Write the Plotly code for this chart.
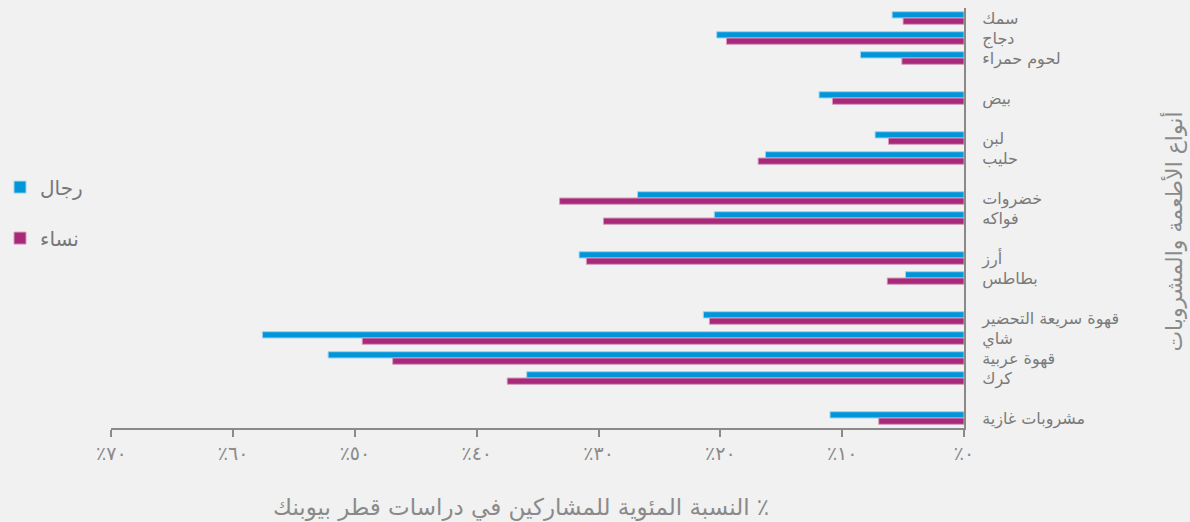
import plotly.graph_objects as go

# food / drink categories, top to bottom (blank entries are spacer rows)
categories = ["سمك", "دجاج", "لحوم حمراء", "",
              "بيض", " ",
              "لبن", "حليب", "  ",
              "خضروات", "فواكه", "   ",
              "أرز", "بطاطس", "    ",
              "قهوة سريعة التحضير", "شاي", "قهوة عربية", "كرك", "     ",
              "مشروبات غازية"]

# percentage of participants (None for spacer rows)
men = [5.9, 20.3, 8.5, None,
       11.9, None,
       7.3, 16.3, None,
       26.8, 20.5, None,
       31.6, 4.8, None,
       21.4, 57.6, 52.2, 35.9, None,
       11.0]
women = [5.0, 19.5, 5.1, None,
         10.8, None,
         6.2, 16.9, None,
         33.2, 29.6, None,
         31.0, 6.3, None,
         20.9, 49.4, 46.9, 37.5, None,
         7.0]

tick_vals = [0, 10, 20, 30, 40, 50, 60, 70]
tick_text = ["٪٠", "٪١٠", "٪٢٠", "٪٣٠", "٪٤٠", "٪٥٠", "٪٦٠", "٪٧٠"]

FONT = "DejaVu Sans"
BG = "#f1f1f1"

fig = go.Figure()
fig.add_trace(go.Bar(
    y=categories, x=men, orientation="h", name="رجال",
    marker=dict(color="#0096d9", line=dict(color="#9fd3ee", width=1)),
    legendgroup="m",
))
fig.add_trace(go.Bar(
    y=categories, x=women, orientation="h", name="نساء",
    marker=dict(color="#a8287a", line=dict(color="#d49bbd", width=1)),
    legendgroup="w",
))

fig.update_layout(
    width=1190, height=522,
    paper_bgcolor=BG, plot_bgcolor=BG,
    margin=dict(l=107, r=226, t=8, b=94),
    barmode="group", bargap=0.37, bargroupgap=0,
    font=dict(family=FONT, color="#7a7a7a"),
    showlegend=True,
    legend=dict(xref="container", x=0, xanchor="left", y=0.62, yanchor="top",
                font=dict(size=20, color="#777777"),
                tracegroupgap=22, bgcolor="rgba(0,0,0,0)"),
    xaxis=dict(range=[70, 0], tickvals=tick_vals, ticktext=tick_text,
               showgrid=False, zeroline=False,
               showline=True, linecolor="#8a8a8a", linewidth=2,
               ticks="outside", ticklen=7, tickcolor="#8a8a8a", tickwidth=2,
               tickfont=dict(size=19, color="#8a8a8a")),
    yaxis=dict(categoryorder="array", categoryarray=categories,
               autorange="reversed", side="right",
               showgrid=False, zeroline=False,
               showline=True, linecolor="#8a8a8a", linewidth=2,
               ticks="", ticklabelstandoff=13,
               tickfont=dict(size=16, color="#7a7a7a")),
    annotations=[
        dict(text="النسبة المئوية للمشاركين في دراسات قطر بيوبنك ٪",
             xref="paper", yref="paper", x=0.481, y=0, yshift=-79,
             xanchor="center", yanchor="middle", showarrow=False,
             font=dict(size=23, color="#8a8a8a")),
        dict(text="أنواع الأطعمة والمشروبات",
             xref="paper", yref="paper", x=1.246, y=0.467,
             xanchor="center", yanchor="middle", textangle=-90,
             showarrow=False, font=dict(size=22, color="#8a8a8a")),
    ],
)

fig.write_html("out.html", config={"displayModeBar": False},
               post_script="document.body.style.margin='0';")
